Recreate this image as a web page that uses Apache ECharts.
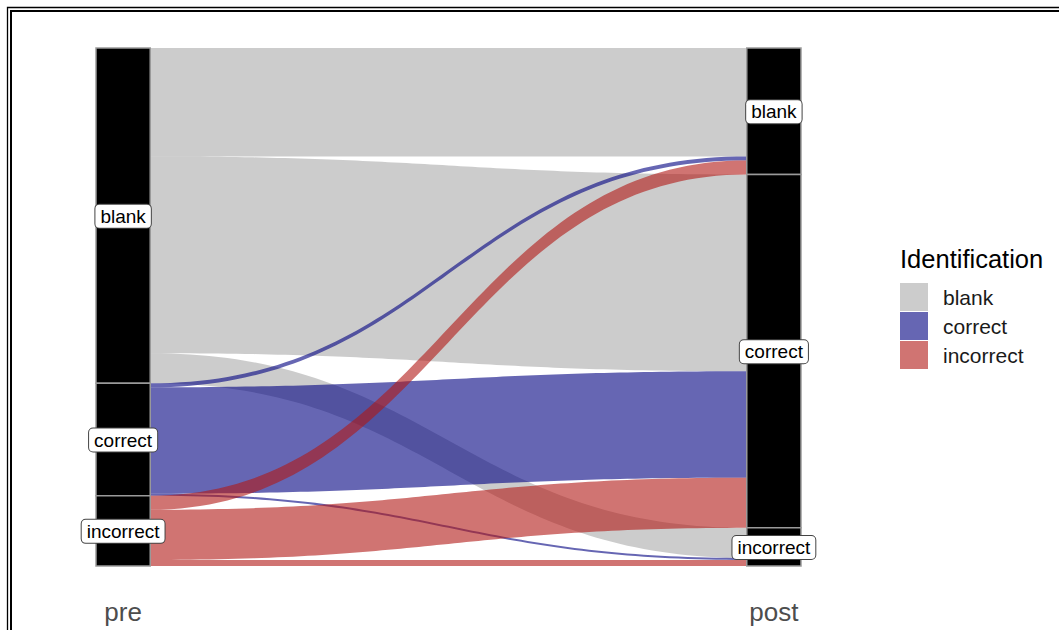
<!DOCTYPE html>
<html><head><meta charset="utf-8">
<script src="https://cdn.jsdelivr.net/npm/echarts@6/dist/echarts.min.js"></script>
<style>html,body{margin:0;padding:0;background:#fff}#c{width:1059px;height:630px}</style>
</head><body><div id="c"></div>
<script>
// ---- data ----
const axesNames = ['pre', 'post'];
const categories = ['blank', 'correct', 'incorrect'];
// counts moving from a "pre" category to each "post" category (blank, correct, incorrect)
const fromBlank = [54, 98, 15];
const fromCorrect = [2, 53, 1];
const fromIncorrect = [7, 25, 3];
const legendTitle = 'Identification';

// ---- styles ----
const flowColors = ['rgba(0,0,0,0.2)', 'rgba(0,0,128,0.6)', 'rgba(177,23,20,0.6)'];
const FONT = '"Liberation Sans", Arial, Helvetica, sans-serif';
const W = 1 / 12;      // stratum width (x units)
const K = 0.47;        // curve control position

const matrix = [fromBlank, fromCorrect, fromIncorrect];
const n = categories.length;
const preTot = matrix.map(r => r.reduce((a, b) => a + b, 0));
const postTot = categories.map((_, j) => matrix.reduce((a, r) => a + r[j], 0));
const total = preTot.reduce((a, b) => a + b, 0);
const cum = arr => { const o = []; let s = 0; arr.forEach(v => { o.push(s); s += v; }); return o; };
const preStart = cum(preTot), postStart = cum(postTot);

// flow data per pre category
const flowData = categories.map((_, i) => {
  const rows = [];
  for (let j = 0; j < n; j++) {
    const v = matrix[i][j];
    if (!v) continue;
    let lt = preStart[i];
    for (let k = 0; k < j; k++) lt += matrix[i][k];
    let rt = postStart[j];
    for (let k = 0; k < i; k++) rt += matrix[k][j];
    rows.push([i, j, lt, lt + v, rt, rt + v]);
  }
  return rows;
});

// strata data
const strataData = [];
axesNames.forEach((a, ai) => {
  const tots = ai === 0 ? preTot : postTot;
  const st = ai === 0 ? preStart : postStart;
  categories.forEach((c, ci) => strataData.push([ai, ci, st[ci], st[ci] + tots[ci]]));
});

function bez(p0, p1, p2, p3, t) {
  const u = 1 - t;
  return u * u * u * p0 + 3 * u * u * t * p1 + 3 * u * t * t * p2 + t * t * t * p3;
}

function flowRender(color) {
  return function (params, api) {
    const lt = api.value(2), lb = api.value(3), rt = api.value(4), rb = api.value(5);
    const xL = 1 + W / 2, xR = 2 - W / 2, dx = xR - xL;
    const c1 = xL + K * dx, c2 = xR - K * dx;
    const N = 80, pts = [];
    for (let s = 0; s <= N; s++) {
      const t = s / N;
      pts.push(api.coord([bez(xL, c1, c2, xR, t), bez(lt, lt, rt, rt, t)]));
    }
    for (let s = N; s >= 0; s--) {
      const t = s / N;
      pts.push(api.coord([bez(xL, c1, c2, xR, t), bez(lb, lb, rb, rb, t)]));
    }
    return { type: 'polygon', shape: { points: pts }, style: { fill: color } };
  };
}

const series = categories.map((c, i) => ({
  type: 'custom',
  name: c,
  coordinateSystem: 'cartesian2d',
  itemStyle: { color: flowColors[i] },
  renderItem: flowRender(flowColors[i]),
  data: flowData[i],
  silent: true
}));

series.push({
  type: 'custom',
  name: 'strata',
  coordinateSystem: 'cartesian2d',
  silent: true,
  data: strataData,
  renderItem: function (params, api) {
    const xc = 1 + api.value(0);
    const p0 = api.coord([xc - W / 2, api.value(2)]);
    const p1 = api.coord([xc + W / 2, api.value(3)]);
    const label = categories[api.value(1)];
    return {
      type: 'group',
      children: [
        { type: 'rect', shape: { x: p0[0], y: p0[1], width: p1[0] - p0[0], height: p1[1] - p0[1] },
          style: { fill: '#000', stroke: '#9a9a9a', lineWidth: 1.5 } },
        { type: 'text', z2: 10,
          style: { text: label, x: (p0[0] + p1[0]) / 2, y: (p0[1] + p1[1]) / 2 + 0.5,
            align: 'center', verticalAlign: 'middle', fontSize: 19, fontFamily: FONT, fill: '#000',
            backgroundColor: '#fff', borderColor: '#444', borderWidth: 1, borderRadius: 4,
            padding: [2, 5, 1, 5], lineHeight: 20 } }
      ]
    };
  }
});

const chart = echarts.init(document.getElementById('c'), null, { renderer: 'svg' });
chart.setOption({
  backgroundColor: '#fff',
  animation: false,
  grid: { left: 96, right: 258, top: 48, bottom: 64 },
  xAxis: {
    type: 'value', min: 1 - W / 2, max: 2 + W / 2,
    axisLine: { show: false }, axisTick: { show: false }, splitLine: { show: false },
    axisLabel: {
      customValues: [1, 2],
      formatter: v => axesNames[Math.round(v) - 1],
      fontSize: 26, color: '#4d4d4d', fontFamily: FONT, margin: 33
    }
  },
  yAxis: {
    type: 'value', min: 0, max: total, inverse: true, show: false
  },
  legend: {
    data: categories, orient: 'vertical', left: 895, top: 278,
    itemWidth: 28, itemHeight: 28, itemGap: 1, icon: 'rect', selectedMode: false,
    textStyle: { fontSize: 21, color: '#1a1a1a', fontFamily: FONT, padding: [0, 0, 0, 10] }
  },
  graphic: [
    { type: 'rect', shape: { x: 7.5, y: 7.5, width: 1200, height: 800 }, style: { fill: 'none', stroke: '#000', lineWidth: 1.3 }, silent: true },
    { type: 'rect', shape: { x: 11, y: 11, width: 1200, height: 800 }, style: { fill: 'none', stroke: '#000', lineWidth: 2 }, silent: true },
    { type: 'text', style: { text: legendTitle, x: 900, y: 259, verticalAlign: 'middle', fontSize: 25.5, fontFamily: FONT, fill: '#000' }, silent: true }
  ],
  series: series
});
</script></body></html>
